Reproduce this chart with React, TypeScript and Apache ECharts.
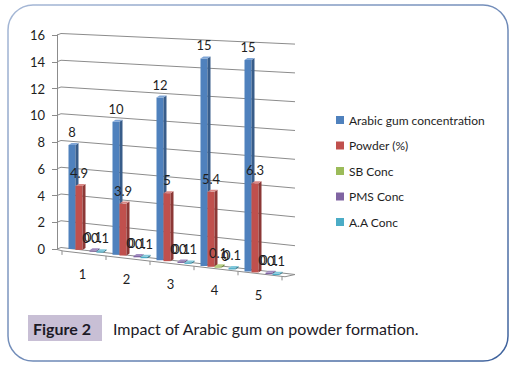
import React, { useEffect, useRef } from 'react';
import * as echarts from 'echarts';

const categories = ['1', '2', '3', '4', '5'];
const seriesNames = ['Arabic gum concentration', 'Powder (%)', 'SB Conc', 'PMS Conc', 'A.A Conc'];
const arabicGum = [8, 10, 12, 15, 15];
const powder = [4.9, 3.9, 5, 5.4, 6.3];
const sbConc = [0, 0, 0, 0.1, 0];
const pmsConc = [0.1, 0.1, 0.1, 0, 0.1];
const aaConc = [0.1, 0.1, 0.1, 0.1, 0.1];
const yTicks = [0, 2, 4, 6, 8, 10, 12, 14, 16];

const seriesValues = [arabicGum, powder, sbConc, pmsConc, aaConc];
const frontColors = ['#4f81bd', '#c0504d', '#9bbb59', '#8064a2', '#4bacc6'];
const sideColors = ['#385d8a', '#8c3836', '#71893f', '#5c4776', '#357d91'];
const topColors = ['#7fa5d6', '#d98986', '#b8d283', '#a18cc0', '#82c9dc'];
const seriesOffsets = [-14, -7, 0, 7, 14];

const FONT = 'Lato, "Liberation Sans", sans-serif';
const FLAT_UNIT = 214 / 16;

const baseY = (X: number) => 249 + (X - 72) * 0.128;
const heightRatio = (X: number) => (13.0 + (X - 72) * 0.0063) / FLAT_UNIT;
const frontEdgeY = (X: number) => 251 + (X - 63) * 0.116;

export default function App() {
  const ref = useRef<HTMLDivElement>(null);

  useEffect(() => {
    if (!ref.current) return;
    const chart = echarts.init(ref.current, undefined, { renderer: 'svg' });

    const barSeries = seriesNames.map((name, s) => ({
      type: 'custom',
      name,
      itemStyle: { color: frontColors[s] },
      data: seriesValues[s].map((v, i) => [i, v]),
      encode: { x: 0, y: 1 },
      z: 10 + s,
      renderItem: (params: any, api: any) => {
        const i = api.value(0);
        const v = api.value(1);
        const p = api.coord([i, v]);
        const p0 = api.coord([i, 0]);
        const h = p0[1] - p[1];
        const X = p[0] + seriesOffsets[s];
        const base = baseY(X);
        const H = h * heightRatio(X);
        const top = base - H;
        const w = 7;
        const d = 3;
        const rise = 2;
        const x0 = X - w / 2;
        const children: any[] = [];
        if (v > 0) {
          children.push({
            type: 'rect',
            shape: { x: x0, y: top, width: w, height: H },
            style: { fill: frontColors[s] },
          });
          children.push({
            type: 'polygon',
            shape: {
              points: [
                [x0 + w, top],
                [x0 + w + d, top - rise],
                [x0 + w + d, base - rise],
                [x0 + w, base],
              ],
            },
            style: { fill: sideColors[s] },
          });
          children.push({
            type: 'polygon',
            shape: {
              points: [
                [x0, top],
                [x0 + w, top],
                [x0 + w + d, top - rise],
                [x0 + d, top - rise],
              ],
            },
            style: { fill: topColors[s] },
          });
        }
        children.push({
          type: 'text',
          z2: 50,
          style: {
            text: String(v),
            x: X,
            y: top - 13,
            align: 'center',
            verticalAlign: 'middle',
            fontSize: 13,
            fontFamily: FONT,
            fill: '#1e1e1e',
          },
        });
        return { type: 'group', children };
      },
    }));

    const gridSeries = {
      type: 'custom',
      name: '__grid',
      silent: true,
      z: 1,
      data: yTicks.map((v) => [0, v]),
      encode: { x: 0, y: 1 },
      renderItem: (params: any, api: any) => {
        const v = api.value(1);
        const yL = api.coord([0, v])[1];
        const y0 = api.coord([0, 0])[1];
        const h = y0 - yL;
        const yR = 274.5 - h * (14.4 / FLAT_UNIT);
        return {
          type: 'polyline',
          shape: { points: [[57, yL], [61, yL - 1.5], [295, yR]] },
          style: { stroke: '#8c8c8c', lineWidth: 1, fill: 'none' },
        };
      },
    };

    const floorSeries = {
      type: 'custom',
      name: '__floor',
      silent: true,
      z: 2,
      data: categories.map((c, i) => [i, 0]),
      encode: { x: 0, y: 1 },
      renderItem: (params: any, api: any) => {
        const i = api.value(0);
        const xc = api.coord([i, 0])[0];
        const band = api.size([1, 0])[0];
        const children: any[] = [];
        const bl = xc - band / 2 - 2;
        children.push({
          type: 'line',
          shape: { x1: bl, y1: frontEdgeY(bl), x2: bl, y2: frontEdgeY(bl) + 4 },
          style: { stroke: '#8c8c8c', lineWidth: 1 },
        });
        if (i === categories.length - 1) {
          const br = xc + band / 2 - 2;
          children.push({
            type: 'line',
            shape: { x1: br, y1: frontEdgeY(br), x2: br, y2: frontEdgeY(br) + 4 },
            style: { stroke: '#8c8c8c', lineWidth: 1 },
          });
          const left = xc - band * (categories.length - 0.5) - 1;
          children.push({
            type: 'polyline',
            shape: {
              points: [
                [57, 249.5],
                [left, frontEdgeY(left)],
                [br + 3, frontEdgeY(br + 3)],
                [295, 274.5],
              ],
            },
            style: { stroke: '#8c8c8c', lineWidth: 1, fill: 'none' },
          });
        }
        const lx = xc - 3.5;
        children.push({
          type: 'text',
          style: {
            text: categories[i],
            x: lx,
            y: frontEdgeY(lx) + 21,
            align: 'center',
            verticalAlign: 'middle',
            fontSize: 13,
            fontFamily: FONT,
            fill: '#1e1e1e',
          },
        });
        return { type: 'group', children };
      },
    };

    chart.setOption({
      animation: false,
      grid: { left: 64, width: 220, top: 35, bottom: 123, containLabel: false },
      xAxis: { type: 'category', data: categories, show: false, boundaryGap: true },
      yAxis: {
        type: 'value',
        min: 0,
        max: 16,
        interval: 2,
        position: 'left',
        offset: 7,
        axisLine: { show: true, lineStyle: { color: '#8c8c8c', width: 1 } },
        axisTick: { show: true, length: 5, lineStyle: { color: '#8c8c8c' } },
        axisLabel: { fontSize: 13, color: '#1e1e1e', margin: 12, fontFamily: FONT },
        splitLine: { show: false },
      },
      legend: {
        data: seriesNames,
        orient: 'vertical',
        left: 331,
        top: 108,
        icon: 'rect',
        itemWidth: 8,
        itemHeight: 8,
        itemGap: 11.5,
        selectedMode: false,
        textStyle: { fontSize: 12, color: '#1e1e1e', fontFamily: FONT, lineHeight: 14 },
      },
      graphic: [
        {
          type: 'rect',
          shape: { x: 8, y: 5, width: 500, height: 356, r: 25 },
          style: {
            fill: 'none',
            lineWidth: 1.5,
            stroke: new echarts.graphic.LinearGradient(0, 0, 1, 1, [
              { offset: 0, color: '#a6b8d6' },
              { offset: 1, color: '#3d619c' },
            ]),
          },
        },
        {
          type: 'rect',
          shape: { x: 28, y: 315, width: 74, height: 26 },
          style: { fill: '#c8bfd5' },
        },
        {
          type: 'text',
          style: {
            text: 'Figure 2',
            x: 33,
            y: 328,
            verticalAlign: 'middle',
            fontSize: 16,
            fontWeight: 'bold',
            fontFamily: FONT,
            fill: '#1c1a26',
          },
        },
        {
          type: 'text',
          style: {
            text: 'Impact of Arabic gum on powder formation.',
            x: 113,
            y: 328,
            verticalAlign: 'middle',
            fontSize: 16,
            fontFamily: FONT,
            fill: '#1c1a26',
          },
        },
      ],
      series: [gridSeries, floorSeries, ...barSeries],
    });

    return () => chart.dispose();
  }, []);

  return (
    <div
      ref={ref}
      style={{ position: 'fixed', left: 0, top: 0, width: 523, height: 372, background: '#fff' }}
    />
  );
}
